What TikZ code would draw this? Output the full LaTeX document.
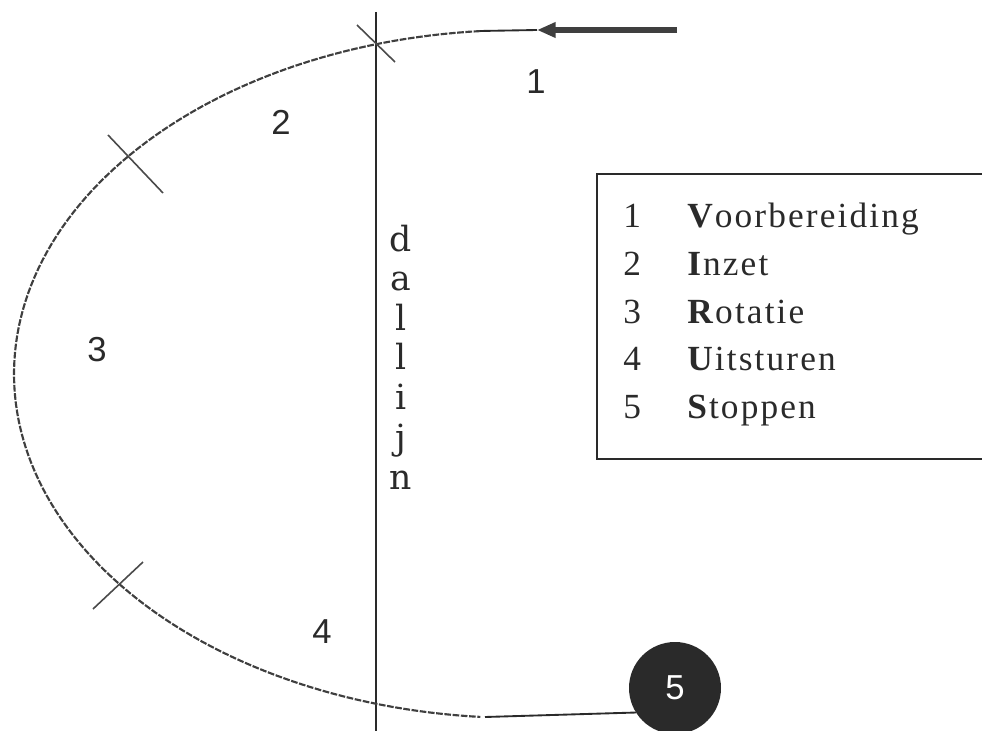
\documentclass[tikz,border=0pt]{standalone}
\usepackage{fontspec}
\setmainfont{Liberation Serif}
\newfontfamily\lblfont{Liberation Sans}
\newfontfamily\legfont[LetterSpace=6]{Liberation Serif}
\newfontfamily\dalfont{DejaVu Serif}
\usetikzlibrary{arrows.meta}
\definecolor{ink}{HTML}{2A2A2A}
\tikzset{
  curve/.style={draw=ink!90, line width=1.6pt, dash pattern=on 5pt off 1.2pt},
  thinline/.style={draw=ink, line width=1.4pt},
  tick/.style={draw=ink!85, line width=1.2pt},
  numlbl/.style={font=\lblfont\fontsize{26}{26}\selectfont, text=ink, inner sep=0pt},
  legtxt/.style={font=\legfont\fontsize{26.5}{26.5}\selectfont, text=ink, anchor=base west, inner sep=0pt},
  dalletter/.style={font=\dalfont\fontsize{26}{26}\selectfont, text=ink, anchor=base, inner sep=0pt},
}
\begin{document}
\begin{tikzpicture}[x=0.75pt,y=-0.75pt]
\useasboundingbox (0,0) rectangle (982,731);
% dallijn (vertical line)
\coordinate (vtop) at (376,12);
\coordinate (vbot) at (376,731);
\draw[draw=ink, line width=1.6pt] (vtop) -- (vbot);
% curve
\coordinate (ctop) at (480,31);
\coordinate (cbot) at (485,717);
\draw[curve] plot[domain=94.5:265.5, samples=120] ({520+506*cos(\x)}, {374-344*sin(\x)});
% top approach with arrow
\coordinate (tip) at (537,30);
\coordinate (tail) at (677,30);
\draw[thinline] (ctop) -- (tip);
\draw[draw=ink!90, line width=3.8pt, -{Triangle[length=14pt,width=11pt]}] (tail) -- (tip);
% stop circle
\node[circle, fill=ink, minimum size=69pt, inner sep=0pt, text=white,
      font=\lblfont\fontsize{26}{26}\selectfont] (stop) at (675,688) {5};
\draw[thinline] (cbot) -- (stop.212);
% tick marks
\coordinate (t1a) at (357,25); \coordinate (t1b) at (395,62);
\coordinate (t2a) at (108,135); \coordinate (t2b) at (163,193);
\coordinate (t3a) at (143,562); \coordinate (t3b) at (93,609);
\draw[tick] (t1a) -- (t1b);
\draw[tick] (t2a) -- (t2b);
\draw[tick] (t3a) -- (t3b);
% phase labels
\node[numlbl] (l1) at (536,82) {1};
\node[numlbl] (l2) at (281,122) {2};
\node[numlbl] (l3) at (97,350) {3};
\node[numlbl] (l4) at (322,632) {4};
% dallijn letters
\node[dalletter] (d1) at (401,252) {d};
\node[dalletter] (d2) at (401,291) {a};
\node[dalletter] (d3) at (401,330) {l};
\node[dalletter] (d4) at (401,369) {l};
\node[dalletter] (d5) at (401,409) {i};
\node[dalletter] (d6) at (401,449) {j};
\node[dalletter] (d7) at (401,489) {n};
% legend box
\coordinate (b1) at (984,174);
\coordinate (b2) at (597,174);
\coordinate (b3) at (597,459);
\coordinate (b4) at (984,459);
\draw[draw=ink, line width=1.5pt] (b1) -- (b2) -- (b3) -- (b4);
\foreach \n/\w/\r [count=\i] in {1/V/oorbereiding, 2/I/nzet, 3/R/otatie, 4/U/itsturen, 5/S/toppen}{
  \node[legtxt] (n\i) at (623,{228+47.5*(\i-1)}) {\n};
  \node[legtxt] (w\i) at (687,{228+47.5*(\i-1)}) {\textbf{\w}\r};
}
\end{tikzpicture}
\end{document}
